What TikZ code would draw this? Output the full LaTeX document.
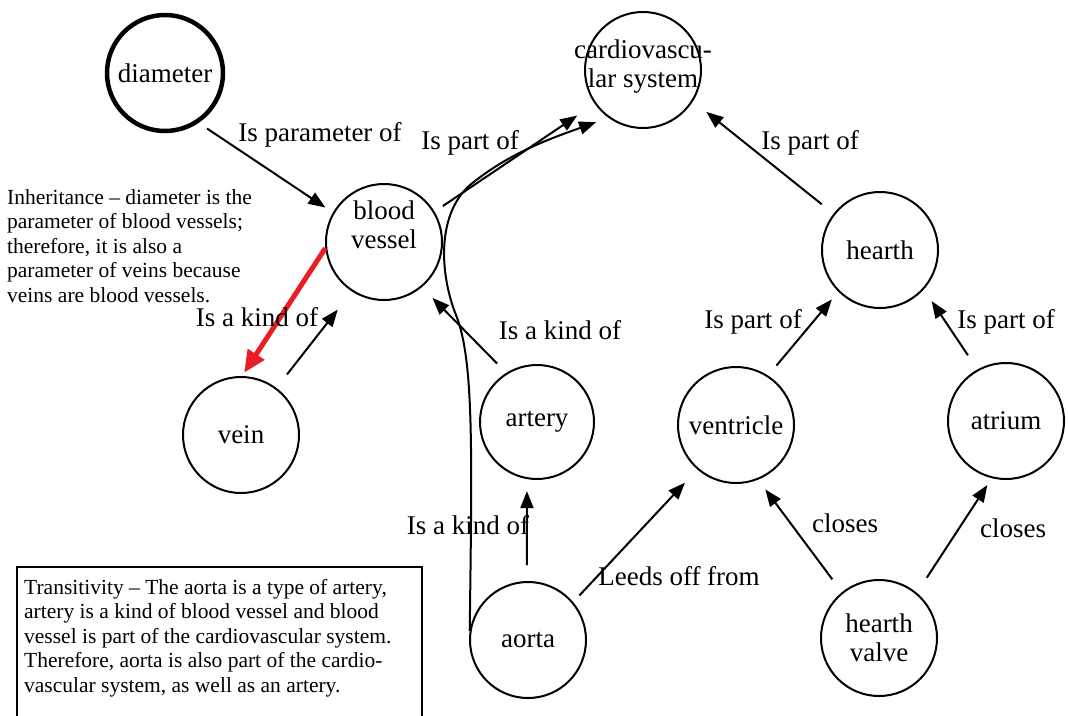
\documentclass[tikz,border=0pt]{standalone}
\usepackage{fontspec}
\setmainfont{Liberation Serif}
\usetikzlibrary{arrows.meta}
\definecolor{inheritred}{RGB}{236,28,36}
\begin{document}
\begin{tikzpicture}[x=1pt,y=-1pt,
  concept/.style={circle, draw, line width=2pt, minimum size=116pt, inner sep=0pt,
    align=center, font=\fontsize{27}{29}\selectfont},
  rel/.style={line width=2pt, -{Triangle[length=17pt,width=13pt]}},
  inherit/.style={line width=5pt, inheritred, -{Triangle[length=22pt,width=19pt]}},
  lbl/.style={font=\fontsize{27}{29}\selectfont, inner sep=0pt},
  note/.style={font=\fontsize{21.5}{24.5}\selectfont, align=left, inner sep=0pt, anchor=north west}]
\useasboundingbox (0,0) rectangle (1068,715);

% concepts
\node[concept, line width=4.5pt] (diameter) at (165,73) {diameter};
\node[concept] (cardio) at (643,70) {\raisebox{2.5pt}[\height][\depth]{\begin{tabular}{@{}c@{}}\makebox[0pt]{cardiovascu-}\\\makebox[0pt]{lar system}\end{tabular}}};
\node[concept] (bv) at (384,242) {\raisebox{14pt}[\height][\depth]{\begin{tabular}{@{}c@{}}blood\\vessel\end{tabular}}};
\node[concept] (hearth) at (880,250) {hearth};
\node[concept] (vein) at (241,435) {vein};
\node[concept, minimum size=114pt] (artery) at (537,422) {artery};
\node[concept] (ventricle) at (736,425) {ventricle};
\node[concept] (atrium) at (1006,421) {atrium};
\node[concept] (aorta) at (528,640) {aorta};
\node[concept] (valve) at (879,638) {hearth\\valve};

% relations
\draw[rel, shorten <=10pt, shorten >=9pt] (diameter.-56) -- (bv.150);
\draw[rel, shorten <=10pt, shorten >=21pt] (bv.31) -- (cardio.215);
\draw[rel, shorten >=13pt] (aorta.171) .. controls (472,450) and (474,360) .. (456,315)
  .. controls (440,275) and (436,215) .. (470,185)
  .. controls (510,152) and (555,137) .. (cardio.234);
\draw[rel, shorten <=15pt, shorten >=17pt] (hearth.142) -- (cardio.-32);
\draw[rel, shorten <=17pt, shorten >=23pt] (vein.53) -- (bv.237);
\draw[inherit, shorten >=4pt] (bv.186) -- (vein.89);
\draw[rel, shorten <=13pt, shorten >=15pt] (artery.122) -- (bv.-50);
\draw[rel, shorten <=16pt, shorten >=12pt] (aorta.91) -- (artery.260);
\draw[rel, shorten <=9pt, shorten >=18pt] (aorta.40) -- (ventricle.229);
\draw[rel, shorten <=13pt, shorten >=10pt] (ventricle.57) -- (hearth.225);
\draw[rel, shorten <=17pt, shorten >=14pt] (atrium.119) -- (hearth.-42);
\draw[rel, shorten <=16pt, shorten >=12pt] (valve.129) -- (ventricle.-68);
\draw[rel, shorten <=18pt, shorten >=8pt] (valve.50) -- (atrium.256);

% relation labels
\node[lbl] (l1) at (320,135) {Is parameter of};
\node[lbl] (l2) at (470,143) {Is part of};
\node[lbl] (l3) at (810,143) {Is part of};
\node[lbl] (l4) at (257,317) {Is a kind of};
\node[lbl] (l5) at (560,330) {Is a kind of};
\node[lbl] (l6) at (468,525) {Is a kind of};
\node[lbl] (l7) at (679,576) {Leeds off from};
\node[lbl] (l8) at (753,322) {Is part of};
\node[lbl] (l9) at (1006,322) {Is part of};
\node[lbl] (l10) at (845,523) {closes};
\node[lbl] (l11) at (1013,528) {closes};

% notes
\node[note] (inh) at (7,189) {Inheritance – diameter is the\\parameter of blood vessels;\\therefore, it is also a\\parameter of veins because\\veins are blood vessels.};
\draw[line width=2pt] (17,725) |- (422,567) -- (422,725);
\node[note] (trans) at (24,579) {Transitivity – The aorta is a type of artery,\\artery is a kind of blood vessel and blood\\vessel is part of the cardiovascular system.\\Therefore, aorta is also part of the cardio-\\vascular system, as well as an artery.};
\end{tikzpicture}
\end{document}
